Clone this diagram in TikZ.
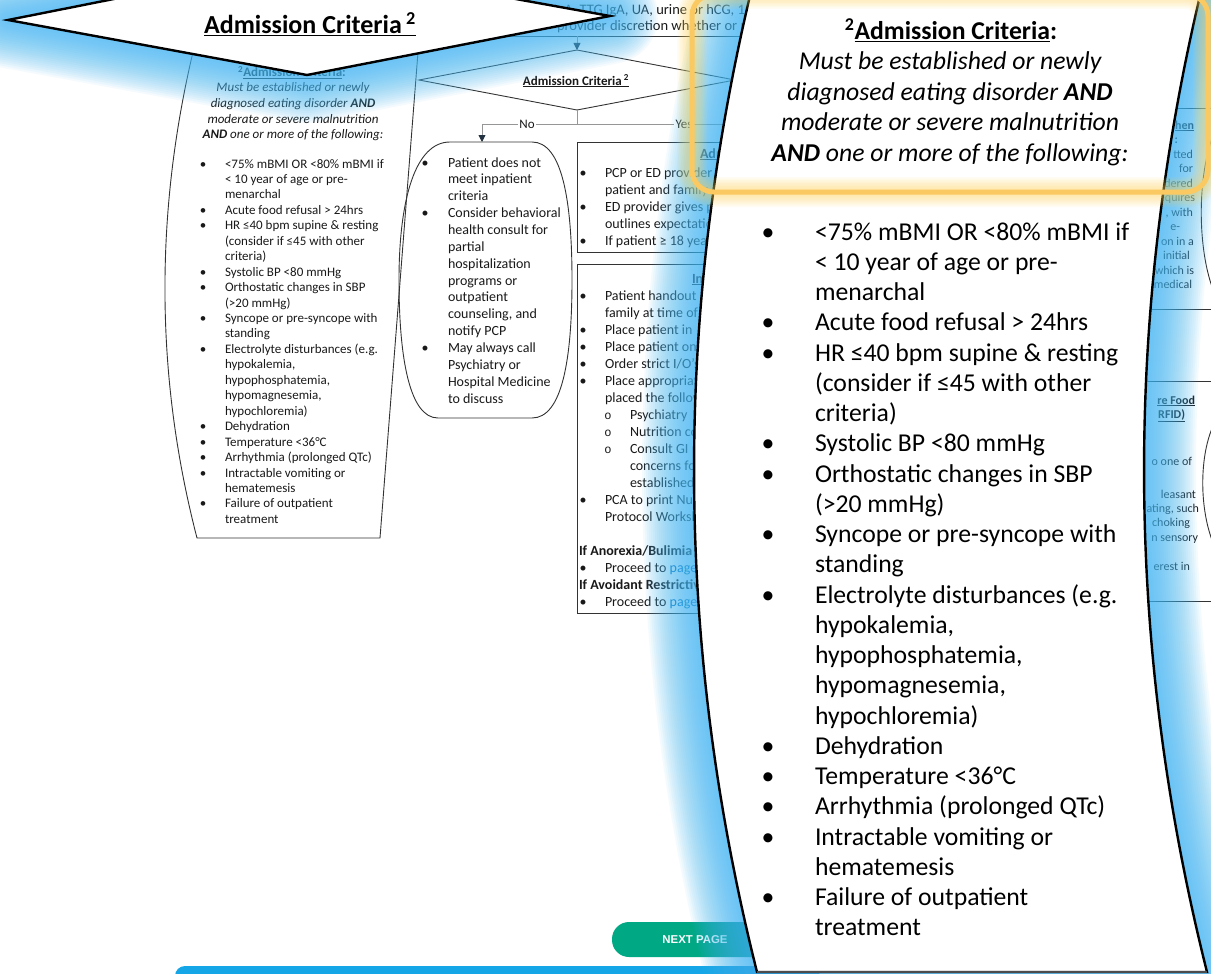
\documentclass[tikz,border=0pt]{standalone}
\usepackage{fontspec}
\setmainfont{Carlito}
\newfontfamily\btnfont{Liberation Sans}
\newfontfamily\subbulletfont{Liberation Mono}
\usetikzlibrary{arrows.meta}

\definecolor{glowblue}{RGB}{70,185,245}
\definecolor{glowyellow}{RGB}{255,212,85}
\definecolor{hlyellow}{RGB}{250,201,98}
\definecolor{linkblue}{RGB}{0,112,192}
\definecolor{btngreen}{RGB}{0,168,132}
\definecolor{barblue}{RGB}{20,166,230}
\definecolor{conngray}{RGB}{150,150,150}
\definecolor{tipdark}{RGB}{35,50,65}
\definecolor{inkdark}{RGB}{25,25,25}

% font sizes (1pt = 1px of the page)
\newcommand\fBig{\fontsize{25.7}{30}\selectfont}
\newcommand\fDia{\fontsize{26}{31}\selectfont}
\newcommand\fCrit{\fontsize{13}{15.5}\selectfont}
\newcommand\fBox{\fontsize{14}{17}\selectfont}
\newcommand\fTop{\fontsize{14.5}{17}\selectfont}
\newcommand\fStrip{\fontsize{12}{14.5}\selectfont}

\tikzset{
  txt/.style={anchor=base west, inner sep=0pt, outer sep=0pt},
  txtc/.style={anchor=base, inner sep=0pt, outer sep=0pt},
  txte/.style={anchor=base east, inner sep=0pt, outer sep=0pt},
  flowtxt/.style={text=inkdark},
  boxline/.style={draw=black!80, line width=0.9pt},
  conn/.style={draw=conngray, line width=0.9pt},
  flowarrow/.style={-{Triangle[length=7pt,width=7pt,color=tipdark]}},
  branchlbl/.style={fill=white, inner sep=1.5pt, text=inkdark, font=\fontsize{13}{15}\selectfont},
  bigline/.style={draw=black, line width=2.4pt, fill=white},
}

% admission criteria items: text / bullet flag
\def\critlist{%
{<75\% mBMI OR <80\% mBMI if}/1,%
{< 10 year of age or pre-}/0,%
{menarchal}/0,%
{Acute food refusal > 24hrs}/1,%
{HR ≤40 bpm supine \& resting}/1,%
{(consider if ≤45 with other}/0,%
{criteria)}/0,%
{Systolic BP <80 mmHg}/1,%
{Orthostatic changes in SBP}/1,%
{(>20 mmHg)}/0,%
{Syncope or pre-syncope with}/1,%
{standing}/0,%
{Electrolyte disturbances (e.g.}/1,%
{hypokalemia,}/0,%
{hypophosphatemia,}/0,%
{hypomagnesemia,}/0,%
{hypochloremia)}/0,%
{Dehydration}/1,%
{Temperature <36°C}/1,%
{Arrhythmia (prolonged QTc)}/1,%
{Intractable vomiting or}/1,%
{hematemesis}/0,%
{Failure of outpatient}/1,%
{treatment}/0}

\def\nolist{%
{Patient does not}/1,{meet inpatient}/0,{criteria}/0,%
{Consider behavioral}/1,{health consult for}/0,{partial}/0,%
{hospitalization}/0,{programs or}/0,{outpatient}/0,%
{counseling, and}/0,{notify PCP}/0,%
{May always call}/1,{Psychiatry or}/0,{Hospital Medicine}/0,{to discuss}/0}

\def\boxAlist{%
{PCP or ED provider}/1,{patient and family}/0,{ED provider gives p}/1,%
{outlines expectations}/0,{If patient ≥ 18 years}/1}

% kinds: 0 text, 1 bullet, 2 sub-bullet, 3 sub text, 4 bold heading, 5 blank
\def\boxBlist{%
{Patient handout}/1,{family at time of}/0,{Place patient in}/1,%
{Place patient on}/1,{Order strict I/O's}/1,{Place appropriate}/1,%
{placed the following}/0,{Psychiatry}/2,{Nutrition consult}/2,%
{Consult GI}/2,{concerns for}/3,{established}/3,%
{PCA to print Nutrition}/1,{Protocol Worksheet}/0,{}/5,%
{If Anorexia/Bulimia}/4,{Proceed to \textcolor{linkblue}{page}}/1,%
{If Avoidant Restrictive}/4,{Proceed to \textcolor{linkblue}{page}}/1}

\begin{document}
\begin{tikzpicture}[x=1pt,y=-1pt]
\useasboundingbox (0,0) rectangle (1211,974);
\clip (0,0) rectangle (1211,974);
\fill[white] (0,0) rectangle (1211,974);

%================ flowchart page =================
% top box (mostly hidden)
\coordinate (topBoxL) at (430,36);
\coordinate (topBoxR) at (800,36);
\draw[boxline] (topBoxL) -- (topBoxR);
\node[txt, flowtxt, font=\fTop] (topLine1) at (543,15) {P IgA, TTG IgA, UA, urine or hCG, 1};
\node[txt, flowtxt, font=\fTop] (topLine2) at (557,30.5) {provider discretion whether or not};

% decision diamond
\coordinate (topBoxBot) at (577,36);
\coordinate (sdT) at (577,50);
\coordinate (sdL) at (419,80);
\coordinate (sdR) at (735,80);
\coordinate (sdB) at (577,110);
\draw[boxline, fill=white] (sdT) -- (sdR) -- (sdB) -- (sdL) -- cycle;
\node[txtc, flowtxt] (sdText) at (576,85) {\fCrit\bfseries\underline{Admission Criteria\,\textsuperscript{2}}};
\draw[conn, flowarrow] (topBoxBot) -- (sdT);

% branches
\coordinate (split) at (577,124);
\coordinate (noTop) at (482,142);
\coordinate (yesEnd) at (800,124);
\draw[conn] (sdB) -- (split);
\draw[conn] (split) -- (yesEnd);
\draw[conn, flowarrow] (split) -| (noTop);
\node[branchlbl] (noLbl) at (527,124) {No};
\node[branchlbl] (yesLbl) at (684,124) {Yes};

% criteria box (left)
\draw[boxline] (193,52) .. controls (154,217) and (156,380) .. (197,538) -- (380,538) -- (418,52) -- cycle;
\node[txtc, flowtxt] (scHead) at (292,77) {\fCrit\bfseries\textsuperscript{2}\underline{Admission Criteria}:};
\node[txtc, flowtxt] (scI1) at (293,92) {\fCrit\itshape Must be established or newly};
\node[txtc, flowtxt] (scI2) at (293,107.5) {\fCrit\itshape diagnosed eating disorder \textbf{AND}};
\node[txtc, flowtxt] (scI3) at (293,123) {\fCrit\itshape moderate or severe malnutrition};
\node[txtc, flowtxt] (scI4) at (293,138.5) {\fCrit\itshape \textbf{AND} one or more of the following:};
\foreach \t/\b [count=\i from 0] in \critlist {
  \node[txt, flowtxt, font=\fCrit] (scL\i) at (225,168+15.45*\i) {\t};
  \ifnum\b=1 \node[txtc, flowtxt, font=\fCrit] (scB\i) at (203,168+15.45*\i) {\textbullet};\fi
}

% "No" outcome box
\draw[boxline] (450,142) -- (532,142) .. controls (562,142) and (572,200) .. (572,280)
  .. controls (572,360) and (562,418) .. (532,418) -- (438,418)
  .. controls (410,418) and (399,360) .. (399,280)
  .. controls (399,200) and (415,142) .. (450,142) -- cycle;
\foreach \t/\b [count=\i from 0] in \nolist {
  \node[txt, flowtxt, font=\fBox] (noL\i) at (448,167+16.86*\i) {\t};
  \ifnum\b=1 \node[txtc, flowtxt, font=\fBox] (noB\i) at (425,167+16.86*\i) {\textbullet};\fi
}

% "Yes" boxes
\draw[boxline] (800,142) -- (577,142) -- (577,252) -- (800,252);
\node[txt, flowtxt, font=\fBox] (aHead) at (700,158) {\bfseries\underline{Admission}};
\foreach \t/\b [count=\i from 0] in \boxAlist {
  \node[txt, flowtxt, font=\fBox] (aL\i) at (605,177+17*\i) {\t};
  \ifnum\b=1 \node[txtc, flowtxt, font=\fBox] (aB\i) at (583,177+17*\i) {\textbullet};\fi
}
\draw[boxline] (800,264) -- (577,264) -- (577,613) -- (800,613);
\node[txt, flowtxt, font=\fBox] (bHead) at (692,283) {\bfseries\underline{In}};
\foreach \t/\k [count=\i from 0] in \boxBlist {
  \pgfmathsetmacro\yy{300+17*\i}
  \ifcase\k
    \node[txt, flowtxt, font=\fBox] (bL\i) at (605,\yy) {\t};
  \or
    \node[txt, flowtxt, font=\fBox] (bL\i) at (605,\yy) {\t};
    \node[txtc, flowtxt, font=\fBox] (bM\i) at (583,\yy) {\textbullet};
  \or
    \node[txt, flowtxt, font=\fBox] (bL\i) at (630,\yy) {\t};
    \node[txtc, flowtxt] (bM\i) at (608,\yy) {\subbulletfont\fontsize{12}{14}\selectfont o};
  \or
    \node[txt, flowtxt, font=\fBox] (bL\i) at (630,\yy) {\t};
  \or
    \node[txt, flowtxt, font=\fBox] (bL\i) at (579,\yy) {\bfseries\t};
  \or
  \fi
}

% column on the far right
\draw[boxline] (1120,108) -- (1215,108);
\draw[boxline] (1120,309) -- (1215,309);
\draw[boxline] (1120,381) -- (1215,381);
\draw[boxline] (1120,601) -- (1215,601);
\draw[boxline] (1214,133) .. controls (1197,175) and (1197,250) .. (1214,292);
\draw[boxline] (1214,424) .. controls (1199,455) and (1199,510) .. (1214,545);
\begin{scope}[every node/.style={txte, flowtxt, font=\fStrip}]
\node (r1) at (1194,129) {\bfseries\underline{hen}};
\node (r2) at (1178,143.5) {\bfseries :};
\node (r3) at (1193,158) {tted};
\node (r4) at (1193,172.5) {for};
\node (r5) at (1193,187) {dered};
\node (r6) at (1195,201.5) {equires};
\node (r7) at (1193,216) {, with};
\node (r8) at (1180,230.5) {e-};
\node (r9) at (1194,245) {on in a};
\node (r10) at (1190,259.5) {initial};
\node (r11) at (1194,274) {which is};
\node (r12) at (1192,288.5) {medical};
\node (s1) at (1195,404) {\bfseries\underline{re Food}};
\node (s2) at (1185,418) {\bfseries\underline{RFID)}};
\node (s3) at (1192,465) {o one of};
\node (s4) at (1196,498) {leasant};
\node (s5) at (1199,512) {ating, such};
\node (s6) at (1190,526) {choking};
\node (s7) at (1198,541) {n sensory};
\node (s8) at (1190,570) {erest in};
\end{scope}

% footer bar and page button
\fill[barblue, rounded corners=10pt] (175,966) rectangle (820,1000);
\fill[btngreen, rounded corners=17pt] (612,922) rectangle (820,957);
\node[inner sep=0pt, text=white] (nextLbl) at (695,940) {\btnfont\bfseries\fontsize{11.4}{13}\selectfont NEXT PAGE};

%================ magnified overlay =================
\coordinate (bdL) at (8,20);
\coordinate (bdT) at (305,-39);
\coordinate (bdR) at (610,16);
\coordinate (bdB) at (307,75);
\def\bigdiamondpath{(bdL) -- (bdT) -- (bdR) -- (bdB) -- cycle}

\coordinate (coA) at (763,-60);
\coordinate (coB) at (749,0);
\coordinate (coC1) at (673,325);
\coordinate (coC2) at (676,650);
\coordinate (coD) at (757,972);
\coordinate (coE) at (1207,972);
\coordinate (coF1) at (1126,650);
\coordinate (coF2) at (1123,325);
\coordinate (coG) at (1199,0);
\coordinate (coH) at (1213,-60);
\def\calloutpath{(coA) -- (coB) .. controls (coC1) and (coC2) .. (coD) -- (coE) .. controls (coF1) and (coF2) .. (coG) -- (coH) -- cycle}

% soft blue halo, built from many faint strokes
\foreach \w in {96,92,...,4} {
  \draw[glowblue, line width=\w pt, draw opacity=0.058, line join=round] \bigdiamondpath;
}
\foreach \w in {104,100,...,4} {
  \draw[glowblue, line width=\w pt, draw opacity=0.056, line join=round] \calloutpath;
}

% enlarged decision diamond
\draw[bigline] \bigdiamondpath;
\node[txtc] (bdText) at (310,34) {\fDia\bfseries\underline{Admission Criteria\,\textsuperscript{2}}};

% enlarged criteria box
\draw[bigline] \calloutpath;
\draw[black!70, line width=1.5pt] (coD) -- (coE);
\node[txtc] (coHead) at (951,40) {\fBig\bfseries\textsuperscript{2}\underline{Admission Criteria}:};
\node[txtc] (coI1) at (950,69.5) {\fBig\itshape Must be established or newly};
\node[txtc] (coI2) at (950,100) {\fBig\itshape diagnosed eating disorder \textbf{AND}};
\node[txtc] (coI3) at (950,130.5) {\fBig\itshape moderate or severe malnutrition};
\node[txtc] (coI4) at (950,161) {\fBig\itshape \textbf{AND} one or more of the following:};
\foreach \t/\b [count=\i from 0] in \critlist {
  \node[txt, font=\fBig] (cbL\i) at (815,240+30.26*\i) {\t};
  \ifnum\b=1 \node[txtc, font=\fBig] (cbB\i) at (768,240+30.26*\i) {\textbullet};\fi
}

% highlight frame with a soft glow
\coordinate (ylA) at (692,-6);
\coordinate (ylB) at (1208,192);
\foreach \w in {30,27,...,3} {
  \draw[glowyellow, line width=\w pt, draw opacity=0.065, rounded corners=22pt] (ylA) rectangle (ylB);
}
\draw[hlyellow, line width=5pt, rounded corners=22pt] (ylA) rectangle (ylB);
\end{tikzpicture}
\end{document}
